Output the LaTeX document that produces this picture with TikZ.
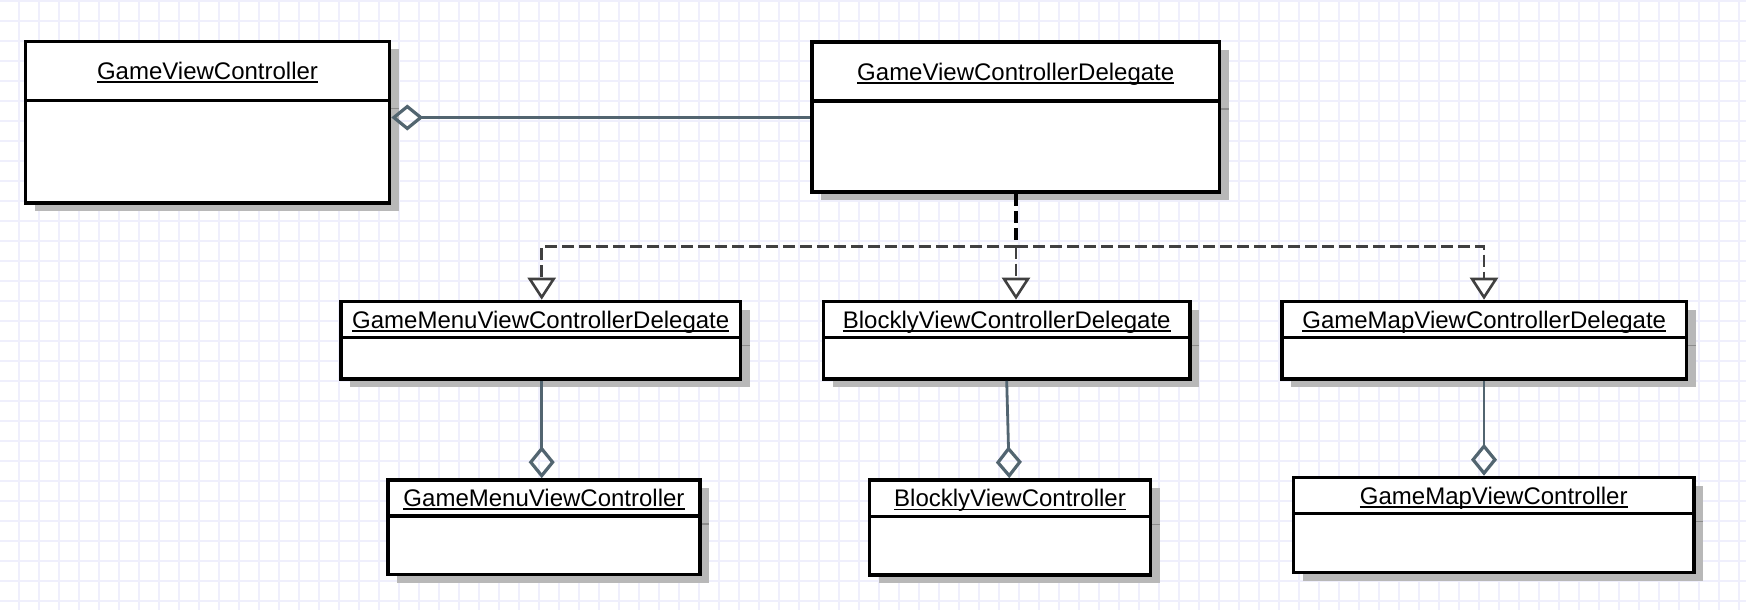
\documentclass[tikz,border=0pt]{standalone}
\usepackage{fontspec}
\setmainfont{Liberation Sans}
\usetikzlibrary{arrows.meta,shadows,calc}
\definecolor{gridc}{RGB}{239,239,252}
\definecolor{aggc}{RGB}{82,101,112}
\definecolor{realc}{RGB}{64,64,64}
\definecolor{shadc}{RGB}{184,184,184}
\newcommand\myul[1]{\setbox0\hbox{#1}\rlap{\rule[-3.6pt]{\wd0}{1.9pt}}\box0}
\tikzset{
 cls/.style={draw=black, line width=3.6pt, fill=white, rectangle, inner sep=0pt,
   drop shadow={shadow xshift=9pt, shadow yshift=-8pt, fill=shadc, opacity=1}},
 divline/.style={black, line width=3.4pt},
 divshadow/.style={black!45, line width=1.5pt},
 ttl/.style={anchor=base, inner sep=0pt, font=\fontsize{24}{28}\selectfont},
 agg/.style={aggc, line width=2.8pt, -{Diamond[open, length=32pt, width=26pt, line width=3.2pt]}},
 stem/.style={black, line width=3.8pt, dash pattern=on 12pt off 5pt},
 real/.style={realc, line width=2.5pt, dash pattern=on 12pt off 5pt,
   -{Triangle[length=22pt, width=28pt, fill=white, line width=2.6pt]}},
}
\newcommand\umlbox[7]{%
 \node[cls, minimum width={#4-#2}, minimum height={#5-#3}] (#1) at ({(#2+#4)/2},{(#3+#5)/2}) {};
 \draw[divshadow] ({#4+1.8},{#6+8}) -- ({#4+9},{#6+8});
 \draw[divline] (#2,#6) -- (#4,#6);
 \node[ttl] (#1-t) at ({(#2+#4)/2},{(#3+#6)/2+8.6}) {\myul{#7}};
}
\begin{document}
\begin{tikzpicture}[x=1pt,y=-1pt]
\useasboundingbox (0,0) rectangle (1746,610);
\fill[white] (0,0) rectangle (1746,610);
\foreach \x in {19,39,...,1739} \draw[gridc, line width=1.1pt] (\x,0) -- (\x,610);
\foreach \y in {1,21,...,601} \draw[gridc, line width=1.1pt] (0,\y) -- (1746,\y);

\umlbox{gvc}{25.5}{41.5}{389.5}{203}{100.5}{GameViewController}
\umlbox{gvcd}{812}{42}{1219.5}{192}{101}{GameViewControllerDelegate}
\umlbox{gmvcd}{341}{301.5}{740.5}{379}{337.5}{GameMenuViewControllerDelegate}
\umlbox{bvcd}{823.5}{301.5}{1190}{379}{337.5}{BlocklyViewControllerDelegate}
\umlbox{gmapvcd}{1282}{301.5}{1686.5}{379}{337.5}{GameMapViewControllerDelegate}
\umlbox{gmvc}{388}{480}{700}{574.5}{516}{GameMenuViewController}
\umlbox{bvc}{869.5}{480}{1150.5}{575}{516.5}{BlocklyViewController}
\umlbox{gmapvc}{1293.5}{477.5}{1694}{572.5}{513.5}{GameMapViewController}

\coordinate (jn) at (1016,246.7);
\coordinate (ya) at (0,117.5);
\coordinate (xa) at (541.7,0);
\coordinate (xb1) at (1006.7,0);
\coordinate (xb2) at (1009.3,0);
\coordinate (xc) at (1484,0);

\draw[stem] (gvcd.south -| jn) -- (jn);
\draw[real] (jn) -| (gmvcd.north -| xa);
\draw[real] (jn) -- (bvcd.north -| jn);
\draw[real] (jn) -| (gmapvcd.north -| xc);

\draw[agg] (gvcd.west |- ya) -- (gvc.east |- ya);
\draw[agg] (gmvcd.south -| xa) -- (gmvc.north -| xa);
\draw[agg] (bvcd.south -| xb1) -- (bvc.north -| xb2);
\draw[agg] (gmapvcd.south -| xc) -- (gmapvc.north -| xc);
\end{tikzpicture}
\end{document}
